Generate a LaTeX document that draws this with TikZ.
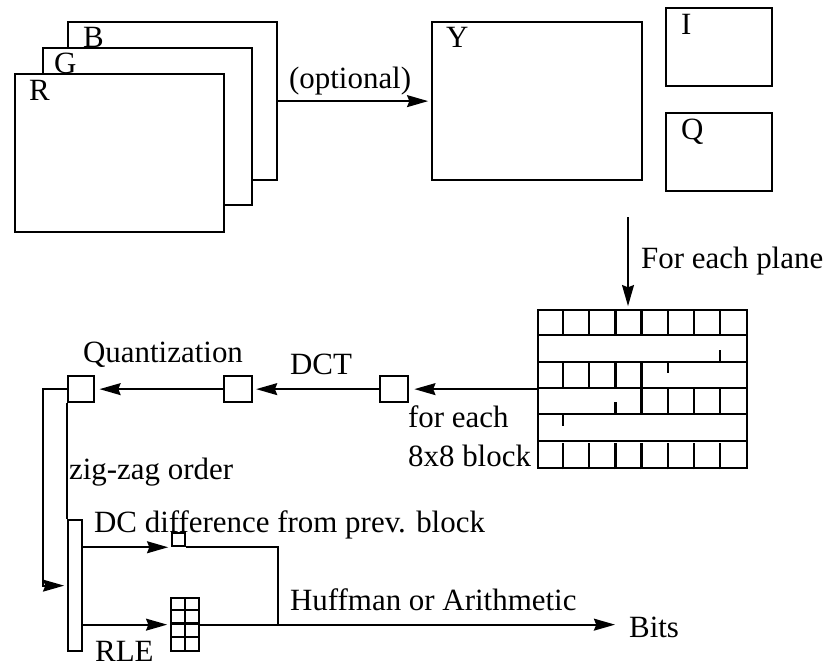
\documentclass[tikz,border=0pt]{standalone}
\usepackage{fontspec}
\setmainfont{Liberation Serif}
\usepackage{tikz}
\usetikzlibrary{arrows.meta,calc,positioning}
\newcommand{\pxu}{0.0125cm}

\begin{document}
\begin{tikzpicture}[x=\pxu,y=-\pxu,>={Stealth[length=7.5pt,width=4.2pt,inset=0.8pt]},
  line width=0.8pt,font=\fontsize{11}{13}\selectfont,
  wh/.style 2 args={minimum width=#1*\pxu,minimum height=#2*\pxu},
  frame/.style={draw,fill=white,inner sep=0pt,anchor=north west},
  lbl/.style={inner sep=0pt,anchor=base west},
  arr/.style={->,shorten >=1pt}]
  \useasboundingbox (0,0) rectangle (828,664);
  % ---------------- RGB planes ----------------
  \node[frame,wh={209}{158}] (B) at (67,21) {};
  \node[frame,wh={209}{157}] (G) at (42,47) {};
  \node[frame,wh={209}{158}] (R) at (14,73) {};
  \node[lbl] (Blbl) at (82,47) {B};
  \node[lbl] (Glbl) at (53,73) {G};
  \node[lbl] (Rlbl) at (28,100) {R};
  % ---------------- YIQ planes ----------------
  \node[frame,wh={210}{158}] (Y) at (431,21) {};
  \node[frame,wh={106}{78}] (I) at (665,7) {};
  \node[frame,wh={106}{78}] (Q) at (665,112) {};
  \node[lbl] (Ylbl) at (445,47) {Y};
  \node[lbl] (Ilbl) at (680,34) {I};
  \node[lbl] (Qlbl) at (680,139) {Q};
  \draw[arr] (B.east) -- (Y.west);
  \node[lbl] (opt) at (288,88) {(optional)};
  % ---------------- plane cut into 8x8 blocks ----------------
  \node[frame,wh={209}{158}] (plane) at (537,309) {};
  \foreach \r in {1,...,5}
    \draw ($(plane.north west)+(0,\r*26.33)$) -- ++(209,0);
  \foreach \c in {1,...,7} {
    \draw ($(plane.north west)+(\c*26.125,0)$) -- ++(0,26.33);
    \draw ($(plane.south west)+(\c*26.125,0)$) -- ++(0,-26.33);
  }
  % rows 3 and 4 (plus the short ticks)
  \foreach \c/\ya/\yb in {1/52.7/79,2/52.7/79,3/52.7/79,4/52.7/79,
      4/79/105.3,5/79/105.3,6/79/105.3,7/79/105.3,
      7/41/52.7,5/52.7/64,3/93/105.3,1/105.3/117}
    \draw ($(plane.north west)+(\c*26.125,\ya)$) -- ($(plane.north west)+(\c*26.125,\yb)$);
  \coordinate (planetop) at (628,217);
  \draw[arr] (planetop) -- (planetop |- plane.north);
  \node[lbl] (each) at (640,268) {For each plane};
  % ---------------- block pipeline ----------------
  \node[frame,wh={28}{26}] (blk) at (379,375) {};
  \node[frame,wh={28}{26}] (dct) at (223,375) {};
  \node[frame,wh={26}{26}] (quant) at (67,375) {};
  \draw[arr,shorten >=1.8pt] (plane.west |- blk) -- (blk.east);
  \draw[arr] (blk.west) -- (dct.east);
  \draw[arr,shorten >=1.5pt] (dct.west) -- (quant.east);
  \node[lbl] (dctlbl) at (289,374) {DCT};
  \node[lbl] (qlbl) at (82,362) {Quantization};
  \node[lbl] (blklbl1) at (407,427) {for each};
  \node[lbl] (blklbl2) at (407,466) {8x8 block};
  % ---------------- entropy coding ----------------
  \node[frame,wh={14}{131}] (bar) at (67,519) {};
  \node[frame,fill=none,wh={13}{13}] (dcbox) at (171,532) {};
  \node[frame,wh={28}{53}] (rle) at (170,597) {};
  \foreach \r in {1,2,3}
    \draw ($(rle.north west)+(0,\r*13.25)$) -- ++(28,0);
  \draw (rle.north) -- (rle.south);
  \draw[arr] (quant.west) -- ++(-24,0) |- (bar.west);
  \draw (quant.south west) -- (bar.north west);
  \draw[arr] (bar.east |- dcbox.south) -- (dcbox.south west);
  \draw (dcbox.south east) -| ($(rle.east)+(78,0)$);
  \draw[arr] (bar.east |- rle) -- (rle.west);
  \node[lbl] (bits) at (628,637) {Bits};
  \draw[arr,shorten >=4.6pt] (rle.east) -- (rle.east -| bits.west);
  \node[lbl] (zz) at (68,479) {zig-zag order};
  \node[lbl] (dclbl) at (93,532) {DC difference from prev. block};
  \node[lbl] (huff) at (289,610) {Huffman or Arithmetic};
  \node[lbl] (rlelbl) at (94,661) {RLE};
\end{tikzpicture}
\end{document}
